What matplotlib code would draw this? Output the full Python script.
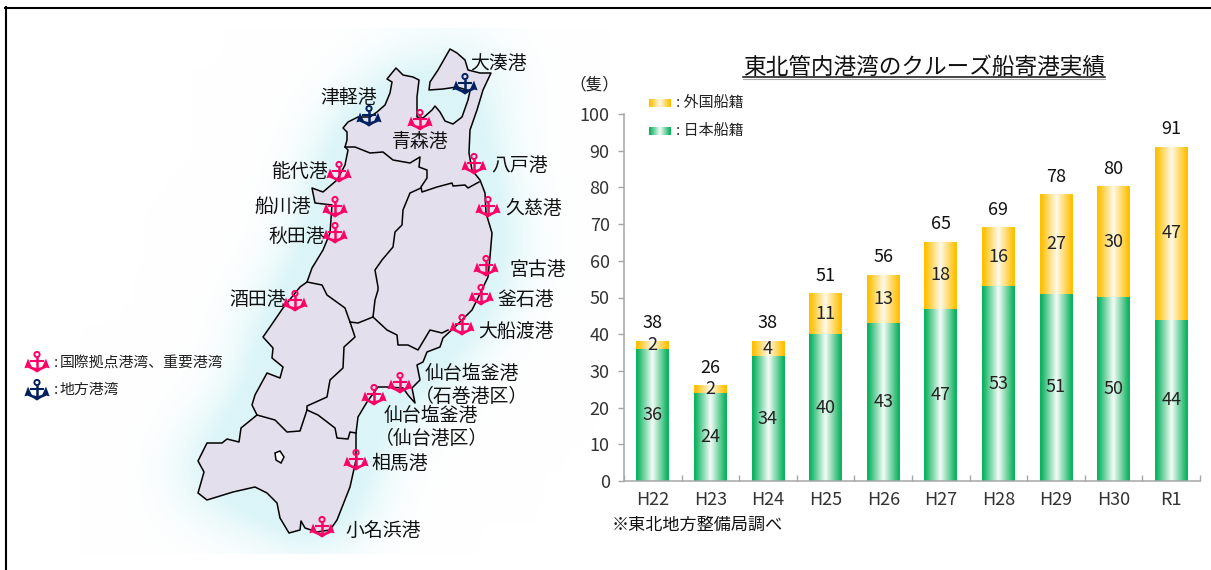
#!/usr/bin/env python3
import matplotlib
matplotlib.use('Agg')
import matplotlib.pyplot as plt
from matplotlib.path import Path
from matplotlib.patches import Polygon, Circle
import numpy as np

plt.rcParams['font.family'] = ['Noto Sans CJK JP', 'DejaVu Sans']

W, H = 1211, 570

#--chart data---------------------------------------
years = ['H22', 'H23', 'H24', 'H25', 'H26', 'H27', 'H28', 'H29', 'H30', 'R1']
japan = [36, 24, 34, 40, 43, 47, 53, 51, 50, 44]
foreign = [2, 2, 4, 11, 13, 18, 16, 27, 30, 47]
totals = [38, 26, 38, 51, 56, 65, 69, 78, 80, 91]

#--map data, traced in image pixels-----------------
outline = [(345,147),(347,140),(347,132),(343,128),(348,122),(358,117),(370,117),(377,112),
    (385,105),(390,93),(392,82),(387,79),(396,68),(403,75),(413,77),(419,80),(417,97),(417,117),
    (423,118),(432,110),(435,106),(440,112),(445,121),(453,124),(462,117),(468,100),(470,91),
    (457,87),(443,89),(429,90),(430,82),(438,70),(450,49),(457,53),(465,60),(468,70),(480,73),
    (491,73),(483,90),(477,110),(470,130),(469,153),(472,170),(480,180),(485,193),(486,213),
    (492,233),(490,257),(488,277),(477,300),(472,310),(457,325),(443,338),(440,347),(427,352),
    (423,362),(417,365),(420,380),(412,388),(415,403),(408,395),(403,388),(387,387),(378,387),
    (367,402),(358,417),(356,433),(356,460),(350,487),(337,520),(330,530),(317,532),(305,528),
    (301,521),(300,530),(289,533),(280,518),(277,503),(267,493),(255,487),(233,492),(207,500),
    (198,493),(204,472),(198,461),(207,443),(222,443),(227,439),(239,442),(241,428),(257,415),
    (252,405),(255,395),(267,373),(280,378),(283,367),(272,358),(273,348),(263,337),(270,327),
    (283,308),(300,287),(307,282),(312,268),(323,250),(330,233),(332,205),(315,203),(312,188),
    (323,192),(337,180),(345,165),(348,150)]
aomori_border = [(345,147),(355,147),(370,153),(383,152),(393,160),(410,163),(420,157),(419,167),
    (427,170),(427,178),(421,187),(422,192),(437,187),(452,183),(453,186),(465,185),(468,188),(479,182)]
akita_iwate = [(421,188),(410,193),(403,210),(402,225),(395,232),(393,247),(382,260),(375,270),
    (378,287),(378,290),(375,300),(373,317)]
akita_yamagata = [(307,282),(322,285),(327,295),(345,308),(350,322),(358,323),(373,317)]
iwate_miyagi = [(373,317),(387,330),(397,335),(398,345),(408,345),(418,350),(430,330),(442,333),(448,330)]
yamagata_miyagi = [(350,322),(355,337),(344,347),(343,368),(330,380),(327,397),(307,406),(307,410)]
yamagata_fukushima = [(257,415),(275,420),(287,432),(300,431),(307,410)]
miyagi_fukushima = [(307,410),(318,415),(335,428),(337,438),(348,439),(350,432),(356,433)]
lake = [(275,453),(280,451),(284,457),(281,463),(276,460)]
borders = [aomori_border, akita_iwate, akita_yamagata, iwate_miyagi, yamagata_miyagi,
    yamagata_fukushima, miyagi_fukushima]

port_names = ['大湊港', '津軽港', '青森港', '八戸港', '能代港', '久慈港', '船川港', '秋田港', '宮古港',
    '酒田港', '釜石港', '大船渡港', '仙台塩釜港', '（石巻港区）', '仙台塩釜港', '（仙台港区）', '相馬港', '小名浜港']
port_label_x = [499, 349, 420, 520, 300, 534, 283, 297, 538, 258, 526, 516, 472, 472, 431, 431, 400, 383]
port_label_y = [62, 96, 140, 164, 170, 207, 205, 235, 268, 298, 298, 330, 372, 395, 414, 437, 462, 529]

major_ports = [(420,120),(474,164),(339,172),(335,207),(335,233),(488,207),(486,266),(295,301),
    (481,295),(462,325),(400,383),(374,395),(356,460),(322,527)]
local_ports = [(465,84),(369,116)]

PINK = '#FF0066'
NAVY = '#002060'
GREEN = np.array([13, 179, 96]) / 255
GREEN_C = np.array([244, 252, 247]) / 255
ORANGE = np.array([255, 192, 0]) / 255
ORANGE_C = np.array([255, 249, 232]) / 255


def grad(edge, center):
    """horizontal edge-center-edge colour strip"""
    t = np.clip(np.abs(np.linspace(-1, 1, 65)) * 1.08, 0, 1)[:, None]
    return (center * (1 - t) + edge * t)[None, :, :]


def anchor(ax, cx, cy, color):
    """anchor symbol about 25x21 px"""
    ax.add_patch(Circle((cx, cy - 7.5), 2.6, fill=False, ec=color, lw=1.4, zorder=6))
    ax.plot([cx, cx], [cy - 4.8, cy + 8], color=color, lw=1.8, zorder=6, solid_capstyle='butt')
    ax.plot([cx - 6, cx + 6], [cy - 0.8, cy - 0.8], color=color, lw=1.5, zorder=6)
    for s in (-1, 1):
        ax.add_patch(Polygon([(cx + s * 12.6, cy + 6.3), (cx + s * 9, cy - 3.4), (cx + s * 5.2, cy + 4.8)],
            fc=color, ec='none', zorder=6))
    ax.add_patch(Polygon([(cx - 9, cy + 2.8), (cx - 4, cy + 5.2), (cx, cy + 6.2), (cx + 4, cy + 5.2), (cx + 9, cy + 2.8),
        (cx + 9, cy + 5.8), (cx + 4, cy + 8), (cx, cy + 10.6), (cx - 4, cy + 8), (cx - 9, cy + 5.8)],
        fc=color, ec='none', zorder=6))


fig = plt.figure(figsize=(W / 100, H / 100), dpi=100)

#--full figure layer in pixel coords------------------
bg = fig.add_axes([0, 0, 1, 1])
bg.set_xlim(0, W)
bg.set_ylim(H, 0)
bg.axis('off')

# glow around the land: blurred land mask
gx = np.arange(0, 680, 2)
gy = np.arange(28, 553, 2)
pad_y = np.arange(-100, 700, 2)
xx, yy = np.meshgrid(gx, pad_y)
mask = Path(outline).contains_points(np.c_[xx.ravel(), yy.ravel()]).reshape(xx.shape).astype(float)
k = np.exp(-0.5 * (np.arange(-60, 61) * 2 / 36.0) ** 2)
k /= k.sum()
mask = np.apply_along_axis(lambda r: np.convolve(r, k, mode='same'), 0, mask)
mask = np.apply_along_axis(lambda r: np.convolve(r, k, mode='same'), 1, mask)
mask = mask[(pad_y >= 28) & (pad_y <= 552)]
v = np.clip(mask * 3.0, 0, 1)[:, :, None]
glow = np.array([1, 1, 1]) * (1 - v) + np.array([220, 245, 248]) / 255 * v
bg.imshow(glow, extent=[gx[0], gx[-1] + 2, gy[-1] + 2, gy[0]], aspect='auto', zorder=1, interpolation='bilinear')
bg.set_xlim(0, W)
bg.set_ylim(H, 0)

bg.add_patch(Polygon(outline, fc='#E4DFEC', ec='black', lw=1.1, zorder=2, joinstyle='round'))
bg.add_patch(Polygon(lake, fc='white', ec='black', lw=1.1, zorder=3))
for b in borders:
    bx, by = zip(*b)
    bg.plot(bx, by, color='black', lw=1.1, zorder=3)

for (px, py) in major_ports:
    anchor(bg, px, py, PINK)
for (px, py) in local_ports:
    anchor(bg, px, py, NAVY)
for name, lx, ly in zip(port_names, port_label_x, port_label_y):
    bg.text(lx, ly + 1.5, name, fontsize=13.6, ha='center', va='center', color='#111111', zorder=7)

# map legend
anchor(bg, 37, 362, PINK)
anchor(bg, 37, 390, NAVY)
bg.text(54, 363, ':', fontsize=10.7, va='center', color='#222222', zorder=7)
bg.text(60, 363, '国際拠点港湾、重要港湾', fontsize=10.7, va='center', color='#222222', zorder=7)
bg.text(54, 390, ':', fontsize=10.7, va='center', color='#222222', zorder=7)
bg.text(60, 390, '地方港湾', fontsize=10.7, va='center', color='#222222', zorder=7)

# picture frame
bg.plot([5, W], [7.5, 7.5], color='black', lw=1.5, zorder=8)
bg.plot([6, 6], [7, H], color='black', lw=1.5, zorder=8)

# title and chart notes
bg.text(924, 67, '東北管内港湾のクルーズ船寄港実績', fontsize=16.3, ha='center', va='center', color='#111111', zorder=7)
bg.plot([743, 1105], [77, 77], color='#111111', lw=1.1, zorder=7)
bg.plot([743, 1105], [78.5, 78.5], color='#AAAAAA', lw=0.8, zorder=7)
bg.text(594, 85, '（隻）', fontsize=12, ha='center', va='center', color='#222222', zorder=7)
bg.text(612, 525, '※東北地方整備局調べ', fontsize=12.3, va='center', color='#111111', zorder=7)

# chart legend
bg.imshow(grad(ORANGE, ORANGE_C), extent=[649, 671, 107, 99], aspect='auto', zorder=7)
bg.imshow(grad(GREEN, GREEN_C), extent=[649, 671, 135, 127], aspect='auto', zorder=7)
bg.set_xlim(0, W)
bg.set_ylim(H, 0)
bg.text(676, 103, ': 外国船籍', fontsize=10.8, va='center', color='#222222', zorder=7)
bg.text(676, 131, ': 日本船籍', fontsize=10.8, va='center', color='#222222', zorder=7)

#--stacked bars---------------------------------------
ax = fig.add_axes([624 / W, (H - 481) / H, 576 / W, 367 / H])
ax.patch.set_alpha(0)
x = np.arange(len(years))
bw = 0.57
b1 = ax.bar(x, japan, bw, color='#0DB360', zorder=1)
b2 = ax.bar(x, foreign, bw, bottom=japan, color='#FFC000', zorder=1)

for bars, edge, center in ((b1, GREEN, GREEN_C), (b2, ORANGE, ORANGE_C)):
    for r in bars:
        ax.imshow(grad(edge, center), extent=[r.get_x(), r.get_x() + r.get_width(), r.get_y(), r.get_y() + r.get_height()],
            aspect='auto', zorder=2)

for bars in (b1, b2):
    ax.bar_label(bars, label_type='center', fontsize=13, color='#222222', zorder=4)
for xi, t in zip(x, totals):
    ax.annotate(str(t), (xi, t), xytext=(0, 13), textcoords='offset points', ha='center', va='center',
        fontsize=13, color='#111111', zorder=4)

ax.set_xlim(-0.5, len(years) - 0.5)
ax.set_ylim(0, 100)
ax.set_yticks(np.arange(0, 101, 10))
ax.set_xticks(x)
ax.set_xticklabels(years)
ax.set_xticks(np.arange(-0.5, len(years)), minor=True)
ax.tick_params(axis='x', which='major', length=0, pad=7.5, labelsize=13, labelcolor='#333333')
ax.tick_params(axis='x', which='minor', direction='in', length=4, width=1, color='#A6A6A6')
ax.tick_params(axis='y', direction='out', length=4.3, width=1, color='#A6A6A6', pad=6, labelsize=13, labelcolor='#333333')
ax.spines['top'].set_visible(False)
ax.spines['right'].set_visible(False)
ax.spines['left'].set_color('#A6A6A6')
ax.spines['bottom'].set_color('#A6A6A6')
ax.spines['left'].set_linewidth(1.1)
ax.spines['bottom'].set_linewidth(1.1)

fig.savefig('out.png', dpi=100)
